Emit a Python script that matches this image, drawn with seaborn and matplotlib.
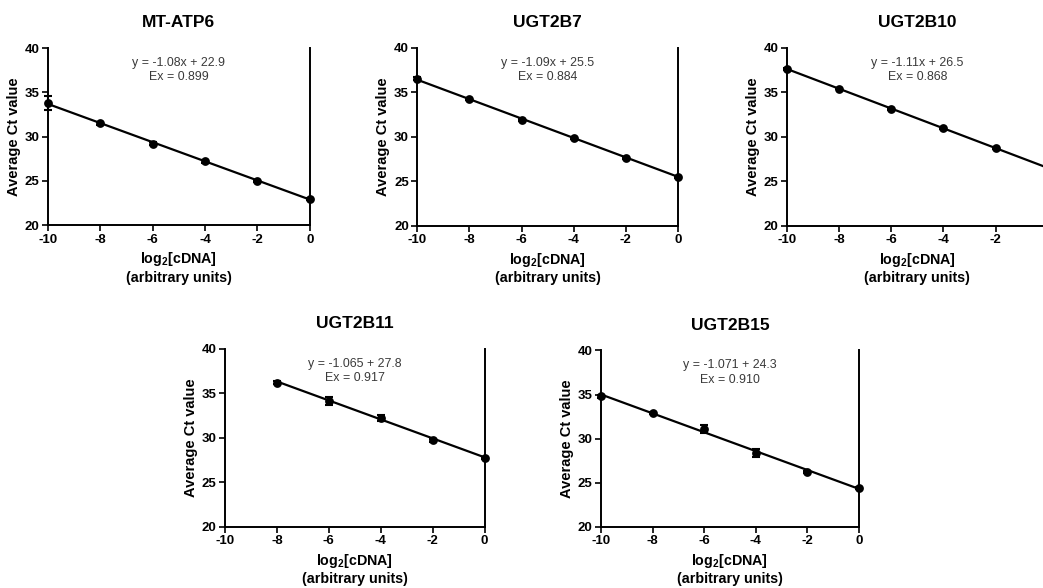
import numpy as np
import pandas as pd
import seaborn as sns
import matplotlib.pyplot as plt

# standard curves
genes = ["MT-ATP6", "UGT2B7", "UGT2B10", "UGT2B11", "UGT2B15"]
x_full = [-10, -8, -6, -4, -2, 0]
x_short = [-8, -6, -4, -2, 0]

ct_mtatp6 = [33.8, 31.5, 29.2, 27.2, 25.0, 23.0]
ct_ugt2b7 = [36.5, 34.2, 31.9, 29.8, 27.6, 25.5]
ct_ugt2b10 = [37.6, 35.4, 33.1, 31.0, 28.7, 26.5]
ct_ugt2b11 = [36.2, 34.1, 32.2, 29.7, 27.7]
ct_ugt2b15 = [34.8, 32.9, 31.1, 28.4, 26.2, 24.4]

err_mtatp6 = [0.8, 0.15, 0.15, 0.15, 0.1, 0.1]
err_ugt2b7 = [0.15, 0.1, 0.1, 0.1, 0.1, 0.1]
err_ugt2b10 = [0.15, 0.1, 0.1, 0.1, 0.1, 0.1]
err_ugt2b11 = [0.15, 0.45, 0.3, 0.15, 0.1]
err_ugt2b15 = [0.15, 0.15, 0.5, 0.45, 0.1, 0.1]

slopes = [-1.08, -1.09, -1.11, -1.065, -1.071]
intercepts = [22.9, 25.5, 26.5, 27.8, 24.3]
equations = ["y = -1.08x + 22.9", "y = -1.09x + 25.5", "y = -1.11x + 26.5",
             "y = -1.065 + 27.8", "y = -1.071 + 24.3"]
efficiencies = ["Ex = 0.899", "Ex = 0.884", "Ex = 0.868", "Ex = 0.917", "Ex = 0.910"]

xs = [x_full, x_full, x_full, x_short, x_full]
cts = [ct_mtatp6, ct_ugt2b7, ct_ugt2b10, ct_ugt2b11, ct_ugt2b15]
errs = [err_mtatp6, err_ugt2b7, err_ugt2b10, err_ugt2b11, err_ugt2b15]

sns.set_theme(style="ticks")
plt.rcParams["font.family"] = ["Liberation Sans", "DejaVu Sans"]
plt.rcParams["mathtext.fontset"] = "custom"
plt.rcParams["mathtext.bf"] = "Liberation Sans:bold"
plt.rcParams["mathtext.rm"] = "Liberation Sans"
plt.rcParams["text.color"] = "black"
plt.rcParams["axes.labelcolor"] = "black"
plt.rcParams["xtick.color"] = "black"
plt.rcParams["ytick.color"] = "black"

fig = plt.figure(figsize=(10.43, 5.88), dpi=100)

# axes boxes [left, bottom, width, height] in figure fractions
boxes = [
    [0.046, 0.617, 0.251, 0.301],
    [0.400, 0.616, 0.250, 0.303],
    [0.7546, 0.616, 0.250, 0.303],
    [0.2157, 0.104, 0.249, 0.303],
    [0.5762, 0.104, 0.2474, 0.300],
]

for i, gene in enumerate(genes):
    ax = fig.add_axes(boxes[i])
    df = pd.DataFrame({"x": xs[i], "ct": cts[i], "err": errs[i]})

    # fitted line
    xl = np.array([min(xs[i]), max(xs[i])])
    line = pd.DataFrame({"x": xl, "y": slopes[i] * xl + intercepts[i]})
    sns.lineplot(data=line, x="x", y="y", ax=ax, color="black", lw=1.6,
                 zorder=3, clip_on=False)

    ax.errorbar(df["x"], df["ct"], yerr=df["err"], fmt="none", ecolor="black",
                elinewidth=1.5, capsize=3, capthick=1.5, zorder=4, clip_on=False)
    sns.scatterplot(data=df, x="x", y="ct", ax=ax, color="black", s=40,
                    edgecolor="black", linewidth=0, zorder=5, clip_on=False)

    ax.set_xlim(-10, 0)
    ax.set_ylim(20, 40)
    ax.set_xticks([-10, -8, -6, -4, -2, 0])
    ax.set_yticks([20, 25, 30, 35, 40])
    ax.set_xticklabels(["-10", "-8", "-6", "-4", "-2", "0"])

    for side in ["left", "bottom", "right"]:
        ax.spines[side].set_linewidth(1.4)
        ax.spines[side].set_color("black")
    ax.spines["top"].set_visible(False)

    ax.tick_params(axis="both", direction="out", length=4, width=1.2,
                   color="black", labelsize=9.5, pad=2)
    for lab in ax.get_xticklabels() + ax.get_yticklabels():
        lab.set_fontweight("bold")

    ax.set_title(gene, fontsize=12.5, fontweight="bold", pad=15)
    ax.set_ylabel("Average Ct value", fontsize=10.5, fontweight="bold", labelpad=3)
    ax.set_xlabel(r"log$_{\mathbf{2}}$[cDNA]" + "\n(arbitrary units)",
                  fontsize=10.3, fontweight="bold", labelpad=3.5, linespacing=1.2)

    ax.text(-5, 38.3, equations[i], ha="center", va="center",
            fontsize=8.9, color="#3a3a3a")
    ax.text(-5, 36.7, efficiencies[i], ha="center", va="center",
            fontsize=8.9, color="#3a3a3a")

fig.savefig("out.png", dpi=100)
